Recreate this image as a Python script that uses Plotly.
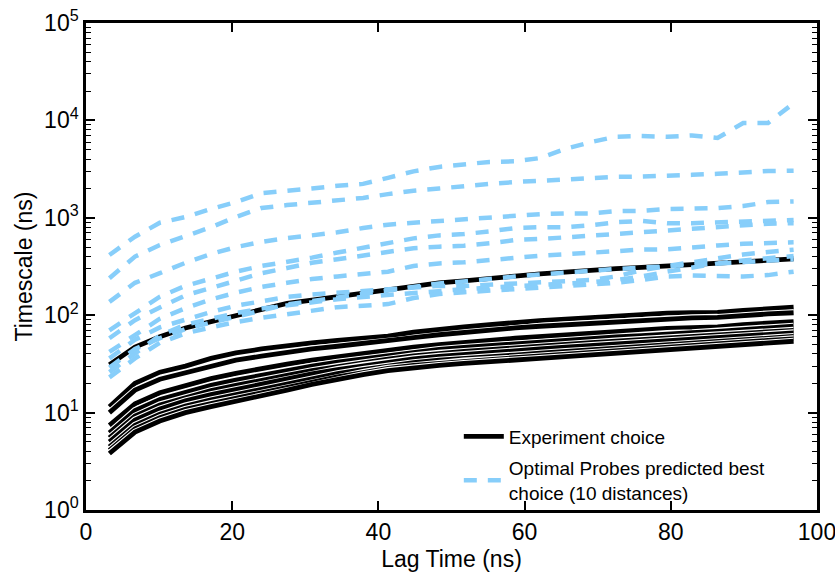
import plotly.graph_objects as go

# ---------------- data ----------------
lag_time = [3.2, 6.7, 10.1, 13.6, 17.1, 20.5, 24.0, 27.5, 30.9, 34.4, 37.9, 41.3, 44.8, 48.3,
            51.7, 55.2, 58.7, 62.1, 65.6, 69.1, 72.5, 76.0, 79.5, 82.9, 86.4, 89.9, 93.3, 96.8]

# Experiment choice (solid black)
exp_0 = [31, 47, 60, 74, 86, 98, 115, 132, 143, 155, 170, 182, 200, 215,
         225, 235, 252, 265, 278, 288, 300, 310, 320, 335, 345, 355, 365, 378]
exp_1 = [11.5, 20, 26, 30, 36, 41, 45, 49, 52, 55, 58, 61, 67, 72,
         76, 80, 85, 88, 91, 95, 98, 101, 105, 106, 107, 112, 116, 121]
exp_2 = [10, 17, 22, 25.5, 30, 34.5, 38, 42, 45, 48, 51, 54, 59, 63,
         67, 70, 74, 77, 80, 83, 86, 88, 92, 94, 95, 100, 103, 106]
exp_3 = [7.4, 12.3, 16, 19, 22.3, 25.3, 28.4, 31.5, 34.5, 37.4, 40.4, 43, 47, 50,
         53, 55, 58, 60.5, 62.6, 65.5, 67.6, 70, 73, 74.5, 76, 80, 83, 86]
exp_4 = [6.2, 10.5, 13.6, 16.2, 19, 21.6, 24.3, 27, 30, 33, 35.8, 38.6, 42, 44.5,
         46.7, 48.8, 51.4, 53.3, 55.5, 57.7, 60, 61.7, 64.7, 66.2, 68.2, 71.5, 73.8, 77]
exp_5 = [5.5, 9.2, 12, 14.4, 16.8, 19, 21.6, 24.1, 26.9, 29.7, 32.6, 35.4, 38.3, 40.6,
         42.6, 44.2, 46.6, 48.2, 50.3, 52.3, 54.3, 56.3, 58.5, 60.7, 62.4, 65, 67.6, 70]
exp_6 = [5.0, 8.4, 10.9, 13.2, 15.3, 17.3, 19.8, 22.1, 25, 27.7, 30.4, 33.2, 35.7, 37.8,
         39.7, 41.3, 43.1, 45, 46.9, 48.8, 50.6, 52.5, 55, 56.6, 58.6, 61, 63.4, 66]
exp_7 = [4.45, 7.4, 9.6, 11.7, 13.5, 15.3, 17.6, 19.7, 22.4, 25.1, 27.7, 30.2, 32.6, 34.5,
         36.2, 37.3, 39, 40.7, 42.4, 44, 45.8, 47.5, 49.7, 51.6, 53.8, 56, 58.2, 60.5]
exp_8 = [4.1, 6.8, 8.85, 10.8, 12.4, 14, 16.2, 18.2, 20.8, 23.3, 25.8, 28.5, 30.6, 32.3,
         33.9, 35, 36.6, 38.2, 39.7, 41.3, 42.9, 44.5, 46.6, 48.7, 50.9, 53, 55.1, 57.2]
exp_9 = [3.8, 6.3, 8.2, 10, 11.5, 13, 15, 17, 19.5, 22, 24.5, 27, 29, 30.5,
         32, 33, 34.5, 36, 37.5, 39, 40.5, 42, 44, 46, 48, 50, 52, 54]

# Optimal Probes predicted best choice (dashed light blue)
opt_1 = [415, 640, 890, 1020, 1230, 1450, 1790, 1870, 2000, 2130, 2230, 2570, 3000, 3330,
         3500, 3750, 3800, 4100, 5100, 6000, 6800, 6900, 6800, 7000, 6600, 9400, 9400, 15000]
opt_2 = [240, 400, 525, 650, 800, 1020, 1260, 1350, 1420, 1520, 1600, 1750, 1900, 2000,
         2130, 2230, 2330, 2400, 2500, 2570, 2630, 2650, 2680, 2760, 2830, 2950, 3020, 3050]
opt_3 = [137, 215, 270, 345, 425, 500, 565, 620, 660, 710, 785, 850, 890, 930,
         975, 1020, 1045, 1090, 1110, 1110, 1170, 1180, 1230, 1240, 1260, 1320, 1450, 1470]
opt_4 = [70, 105, 155, 200, 235, 280, 320, 350, 390, 440, 495, 550, 615, 660,
         680, 725, 785, 800, 800, 840, 900, 930, 880, 880, 900, 930, 950, 950]
opt_5 = [58, 89, 120, 160, 190, 225, 270, 305, 345, 375, 410, 450, 488, 505,
         517, 547, 592, 606, 624, 655, 682, 710, 750, 770, 800, 835, 870, 880]
opt_6 = [42, 63, 92, 118, 145, 170, 195, 215, 235, 250, 262, 280, 320, 340,
         349, 369, 389, 408, 422, 438, 453, 472, 475, 500, 520, 540, 552, 560]
opt_7 = [36, 56, 75, 90, 108, 125, 140, 154, 163, 170, 176, 182, 192, 200,
         200, 205, 210, 215, 220, 230, 250, 290, 320, 350, 390, 420, 445, 470]
opt_8 = [26, 41, 62, 80, 93, 105, 117, 127, 137, 146, 154, 162, 170, 178,
         185, 192, 198, 204, 210, 218, 230, 250, 280, 310, 340, 365, 385, 405]
opt_9 = [23, 36, 52, 65, 75, 85, 94, 102, 112, 121, 125, 130, 150, 165,
         172, 178, 185, 192, 200, 208, 215, 230, 250, 255, 252, 250, 258, 280]
opt_10 = [29, 45, 58, 72, 84, 96, 112, 129, 140, 152, 167, 180, 197, 212,
          222, 232, 249, 262, 275, 285, 298, 308, 318, 332, 342, 352, 362, 375]

experiment_series = [exp_0, exp_1, exp_2, exp_3, exp_4, exp_5, exp_6, exp_7, exp_8, exp_9]
optimal_series = [opt_1, opt_2, opt_3, opt_4, opt_5, opt_6, opt_7, opt_8, opt_9, opt_10]

y_tick_vals = [1, 10, 100, 1000, 10000, 100000]
y_tick_text = ["10<sup>0</sup>", "10<sup>1</sup>", "10<sup>2</sup>",
               "10<sup>3</sup>", "10<sup>4</sup>", "10<sup>5</sup>"]
x_tick_vals = [0, 20, 40, 60, 80, 100]

# ---------------- figure ----------------
FONT = "Liberation Sans, Arial, Helvetica, sans-serif"
BLUE = "#87CEFA"

fig = go.Figure()

for i, ys in enumerate(experiment_series):
    # white halo under each black line
    fig.add_trace(go.Scatter(x=lag_time, y=ys, mode="lines",
                             line=dict(color="white", width=7),
                             showlegend=False, hoverinfo="skip"))
    fig.add_trace(go.Scatter(x=lag_time, y=ys, mode="lines",
                             line=dict(color="black", width=4.8),
                             name="Experiment choice", legendgroup="exp",
                             showlegend=(i == 0)))

for i, ys in enumerate(optimal_series):
    fig.add_trace(go.Scatter(x=lag_time, y=ys, mode="lines",
                             line=dict(color=BLUE, width=4.5, dash="13px,11px"),
                             name="Optimal Probes predicted best<br>choice (10 distances)",
                             legendgroup="opt", showlegend=(i == 0)))

minor_vals = [m * 10 ** k for k in range(0, 5) for m in range(2, 10)]

fig.update_layout(
    width=835, height=572,
    margin=dict(l=86, r=18, t=23, b=62, autoexpand=False),
    paper_bgcolor="white", plot_bgcolor="white",
    font=dict(family=FONT, color="black", size=23),
    legend=dict(x=0.51, y=0.19, xanchor="left", yanchor="top",
                bgcolor="rgba(0,0,0,0)", font=dict(size=19, family=FONT),
                tracegroupgap=4, itemwidth=40),
    showlegend=True,
)

fig.update_xaxes(
    range=[0, 100], tickvals=x_tick_vals, ticks="inside", ticklen=9, tickwidth=1.5,
    tickcolor="black", showline=True, linecolor="black", linewidth=2.5, mirror="ticks",
    showgrid=False, zeroline=False, tickfont=dict(size=23, family=FONT),
    automargin=False, ticklabeloverflow="allow",
    title=dict(text="Lag Time (ns)", font=dict(size=23, family=FONT), standoff=8),
)
fig.update_yaxes(
    type="log", range=[0, 5], tickvals=y_tick_vals, ticktext=y_tick_text,
    ticks="inside", ticklen=9, tickwidth=1.5, tickcolor="black",
    minor=dict(tickmode="array", tickvals=minor_vals, ticks="inside", ticklen=5,
               tickwidth=1, tickcolor="black", showgrid=False),
    showline=True, linecolor="black", linewidth=2.5, mirror="ticks",
    showgrid=False, zeroline=False, tickfont=dict(size=23, family=FONT),
    automargin=False, ticklabeloverflow="allow",
    title=dict(text="Timescale (ns)", font=dict(size=23, family=FONT), standoff=6),
)

fig.write_html(
    "out.html",
    config={"displayModeBar": False},
    post_script="document.body.style.margin='0px';document.body.style.overflow='hidden';",
)
